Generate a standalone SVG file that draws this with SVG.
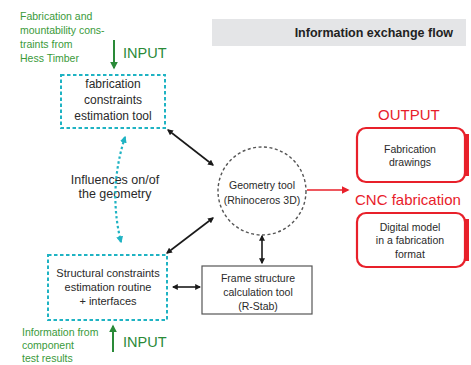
<svg xmlns="http://www.w3.org/2000/svg" width="471" height="365" viewBox="0 0 471 365">
<style>
text{font-family:"Liberation Sans",Arial,sans-serif;}
.g{fill:#3a9a3a;font-size:10.5px;}
.inp{fill:#2a8a38;font-size:14.5px;}
.red{fill:#e8202a;font-size:15px;}
.t{fill:#2a2a2a;text-anchor:middle;}
.dbox{fill:none;stroke:#1fb3c3;stroke-width:2;stroke-dasharray:3.5 2.5;}
.rbox{fill:#fff;stroke:#e8202a;stroke-width:2.2;}
.blk{stroke:#1a1a1a;stroke-width:1.6;fill:none;marker-start:url(#ab);marker-end:url(#ab);}
</style>
<defs>
<marker id="ab" viewBox="0 0 10 10" refX="8" refY="5" markerWidth="6" markerHeight="6" orient="auto-start-reverse" markerUnits="userSpaceOnUse"><path d="M0,0 L10,5 L0,10 z" fill="#1a1a1a"/></marker>
<marker id="at" viewBox="0 0 10 10" refX="8" refY="5" markerWidth="7" markerHeight="7" orient="auto-start-reverse" markerUnits="userSpaceOnUse"><path d="M0,0 L10,5 L0,10 z" fill="#1fb3c3"/></marker>
<marker id="ag" viewBox="0 0 10 10" refX="8" refY="5" markerWidth="8" markerHeight="8" orient="auto" markerUnits="userSpaceOnUse"><path d="M0,0 L10,5 L0,10 z" fill="#2a8a38"/></marker>
<marker id="ar" viewBox="0 0 10 10" refX="8" refY="5" markerWidth="8" markerHeight="8" orient="auto" markerUnits="userSpaceOnUse"><path d="M0,0 L10,5 L0,10 z" fill="#e8202a"/></marker>
</defs>
<rect width="471" height="365" fill="#fff"/>

<g id="header">
<rect x="212" y="19" width="254" height="27" fill="#e4e5e7"/>
<text x="453" y="37" font-size="12.5" font-weight="bold" fill="#222" text-anchor="end">Information exchange flow</text>
</g>

<g id="input-top">
<text class="g" x="20" y="20">Fabrication and</text>
<text class="g" x="20" y="34">mountability cons-</text>
<text class="g" x="20" y="48">traints from</text>
<text class="g" x="20" y="62">Hess Timber</text>
<text class="inp" x="123" y="58">INPUT</text>
</g>

<g id="input-bottom">
<text class="g" x="22" y="336">Information from</text>
<text class="g" x="22" y="349">component</text>
<text class="g" x="22" y="362">test results</text>
<text class="inp" x="123" y="347">INPUT</text>
</g>

<g id="fab-constraints">
<rect class="dbox" x="61" y="75" width="104" height="53"/>
<text class="t" x="113" y="88" font-size="12">fabrication</text>
<text class="t" x="113" y="104" font-size="12">constraints</text>
<text class="t" x="113" y="120" font-size="12">estimation tool</text>
</g>

<g id="influences">
<text class="t" x="115" y="184" font-size="12.5">Influences on/of</text>
<text class="t" x="115" y="198" font-size="12.5">the geometry</text>
</g>

<g id="struct-constraints">
<rect class="dbox" x="48" y="255" width="119" height="65"/>
<text class="t" x="108" y="277" font-size="11">Structural constraints</text>
<text class="t" x="108" y="291" font-size="11">estimation routine</text>
<text class="t" x="108" y="305" font-size="11">+ interfaces</text>
</g>

<g id="geometry-tool">
<circle cx="262" cy="191" r="44" fill="none" stroke="#555" stroke-width="1.4" stroke-dasharray="3 2.5"/>
<text class="t" x="262" y="189" font-size="10.5">Geometry tool</text>
<text class="t" x="262" y="204" font-size="10.5">(Rhinoceros 3D)</text>
</g>

<g id="frame-tool">
<rect x="202" y="266" width="110" height="48" fill="#fff" stroke="#555" stroke-width="1.2"/>
<text class="t" x="258" y="282" font-size="10.5">Frame structure</text>
<text class="t" x="258" y="296" font-size="10.5">calculation tool</text>
<text class="t" x="258" y="310" font-size="10.5">(R-Stab)</text>
</g>

<g id="output">
<text class="red" x="378" y="120">OUTPUT</text>
<rect x="463" y="134" width="6" height="42" fill="#e8202a"/>
<rect class="rbox" x="357" y="128" width="108" height="54" rx="9"/>
<text class="t" x="410" y="153" font-size="10.5">Fabrication</text>
<text class="t" x="410" y="166" font-size="10.5">drawings</text>
</g>

<g id="cnc">
<text class="red" x="355" y="205">CNC fabrication</text>
<rect x="463" y="219" width="6" height="42" fill="#e8202a"/>
<rect class="rbox" x="357" y="213" width="108" height="54" rx="9"/>
<text class="t" x="410" y="231" font-size="10.5">Digital model</text>
<text class="t" x="410" y="244" font-size="10.5">in a fabrication</text>
<text class="t" x="410" y="258" font-size="10.5">format</text>
</g>

<g id="connectors">
<line x1="114" y1="40" x2="114" y2="68" stroke="#2a8a38" stroke-width="2" marker-end="url(#ag)"/>
<line x1="113" y1="352" x2="113" y2="326" stroke="#2a8a38" stroke-width="2" marker-end="url(#ag)"/>
<path d="M125,137 Q108,190 121,242" fill="none" stroke="#1fb3c3" stroke-width="2.2" stroke-dasharray="2.5 2.5" marker-start="url(#at)" marker-end="url(#at)"/>
<line class="blk" x1="168" y1="130" x2="213" y2="165"/>
<line class="blk" x1="167" y1="253" x2="213" y2="218"/>
<line class="blk" x1="262" y1="236" x2="262" y2="263"/>
<line class="blk" x1="173" y1="287" x2="200" y2="287"/>
<line x1="307" y1="190" x2="348" y2="190" stroke="#e8202a" stroke-width="1.6" marker-end="url(#ar)"/>
</g>
</svg>
